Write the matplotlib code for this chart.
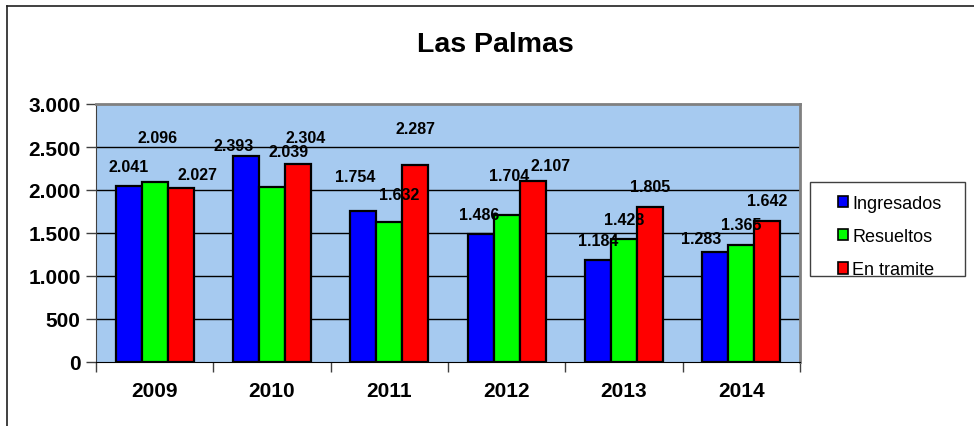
import matplotlib
matplotlib.use('Agg')
import matplotlib.pyplot as plt
import numpy as np
from matplotlib.lines import Line2D
from matplotlib.patches import Rectangle

plt.rcParams['font.family'] = ['Liberation Sans', 'DejaVu Sans']

years = ['2009', '2010', '2011', '2012', '2013', '2014']
series_names = ['Ingresados', 'Resueltos', 'En tramite']
ingresados = [2041, 2393, 1754, 1486, 1184, 1283]
resueltos = [2096, 2039, 1632, 1704, 1428, 1365]
en_tramite = [2027, 2304, 2287, 2107, 1805, 1642]
colors = ['#0000FF', '#00FF00', '#FF0000']

# label offsets (pixels) relative to the top centre of each bar, as in the original chart
label_offsets = [
    [(0, 20), (-12, 11), (-8, 35), (-1, 20), (0, 20), (-14, 13)],
    [(3, 44), (17, 35), (10, 27), (2, 40), (0, 20), (0, 20)],
    [(17, 13), (8, 26), (0, 37), (18, 15), (0, 20), (0, 20)],
]

W, H = 974, 427
fig = plt.figure(figsize=(W / 100, H / 100), dpi=100)
ax = fig.add_axes([96 / W, (H - 363) / H, 704 / W, 258 / H])
ax.set_facecolor('#A6CAF0')

x = np.arange(len(years))
width = 0.222
all_series = [ingresados, resueltos, en_tramite]
for i, (vals, name, col) in enumerate(zip(all_series, series_names, colors)):
    pos = x + (i - 1) * width
    ax.bar(pos, vals, width, color=col, edgecolor='black', linewidth=1.6,
           label=name, zorder=3)
    for j, v in enumerate(vals):
        dx, dy = label_offsets[i][j]
        ax.annotate('{:.3f}'.format(v / 1000), (pos[j], v), xytext=(dx, dy),
                    textcoords='offset pixels', ha='center', va='center',
                    fontsize=11.5, fontweight='bold', zorder=4)

ax.set_xlim(-0.5, len(years) - 0.5)
ax.set_ylim(0, 3000)
ax.set_yticks(np.arange(0, 3001, 500))
ax.set_yticklabels(['{:,}'.format(t).replace(',', '.') for t in range(0, 3001, 500)],
                   fontsize=15, fontweight='bold')
ax.set_xticks(x)
ax.set_xticklabels(years, fontsize=15, fontweight='bold')
ax.set_xticks(np.arange(-0.5, len(years), 1), minor=True)
ax.tick_params(axis='x', which='major', length=0, pad=14)
ax.tick_params(axis='x', which='minor', length=7, width=1, color='#404040')
ax.tick_params(axis='y', length=7, width=1, color='#404040', pad=4)

for yv in range(500, 3000, 500):
    ax.axhline(yv, color='black', linewidth=1, zorder=1)

ax.spines['top'].set_color('#808080')
ax.spines['right'].set_color('#808080')
ax.spines['top'].set_linewidth(2)
ax.spines['right'].set_linewidth(2)
ax.spines['left'].set_color('#404040')
ax.spines['bottom'].set_color('black')

fig.text(495 / W, 1 - 45 / H, 'Las Palmas', ha='center', va='center',
         fontsize=20.5, fontweight='bold')

# legend box drawn separately so it can be wider than its content
fig.add_artist(Rectangle((810 / W, 1 - 277 / H), 155 / W, 94 / H,
                         transform=fig.transFigure, facecolor='white',
                         edgecolor='#404040', linewidth=1))
leg = fig.legend(loc='upper left', bbox_to_anchor=(825 / W, 1 - 183 / H),
                 fontsize=13, frameon=False,
                 handlelength=0.6, handleheight=0.6, handletextpad=0.2,
                 labelspacing=0.9, borderpad=0.7, borderaxespad=0)
for h in leg.legend_handles:
    h.set_linewidth(1.2)

# outer chart border (left and top visible)
fig.add_artist(Line2D([7 / W, 7 / W], [0, 1 - 7 / H], color='#202020', linewidth=1.2))
fig.add_artist(Line2D([7 / W, 1], [1 - 7 / H, 1 - 7 / H], color='#202020', linewidth=1.2))

fig.savefig('out.png', dpi=100)
